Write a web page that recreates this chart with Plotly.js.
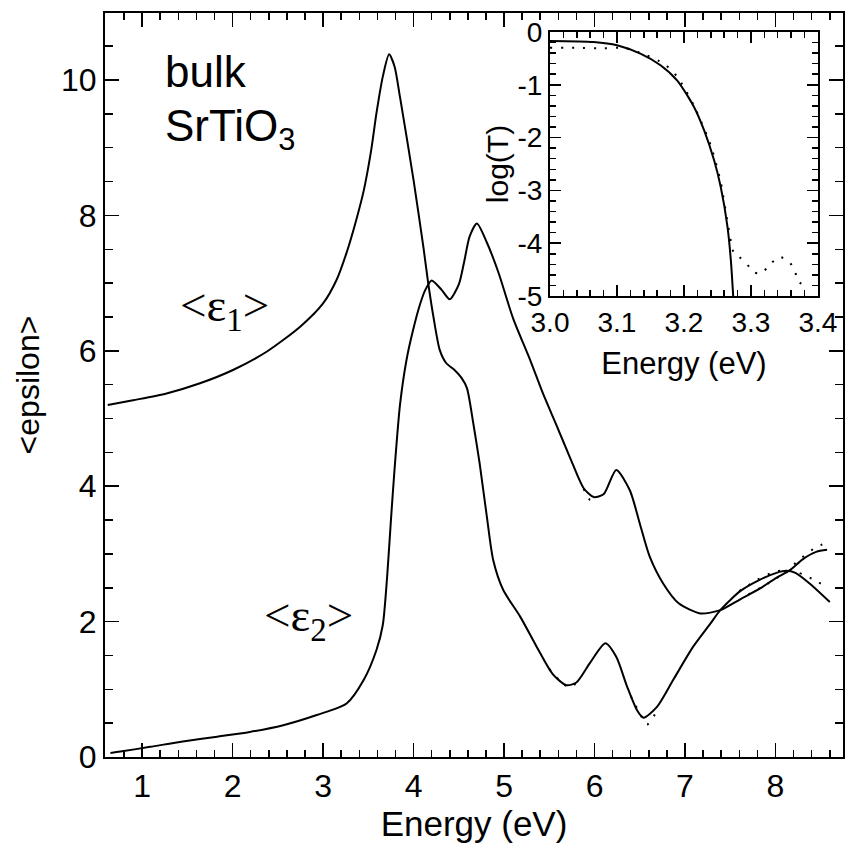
<!DOCTYPE html>
<html><head><meta charset="utf-8">
<script src="https://cdn.plot.ly/plotly-3.0.1.min.js"></script>
<style>body{margin:0;background:#fff}#plot{width:847px;height:852px}</style>
</head><body><div id="plot"></div>
<script>
// main panel: <epsilon1>, model (solid)
const e1Energy = [0.62,0.90,1.27,1.64,2.01,2.38,2.75,3.00,3.15,3.26,3.36,3.45,3.53,3.59,3.66,3.73,3.79,3.85,4.00,4.11,4.16,4.22,4.29,4.36,4.45,4.53,4.59,4.66,4.73,4.81,4.88,4.99,5.18,5.36,5.54,5.69,5.80,5.95,6.12,6.24,6.36,6.47,6.54,6.69,6.87,7.09,7.28,7.39,7.61,7.83,8.01,8.12,8.22,8.38,8.60];
const e1Model  = [5.20,5.27,5.37,5.52,5.72,5.99,6.36,6.70,7.05,7.45,7.90,8.37,8.95,9.51,10.05,10.38,10.20,9.75,8.52,7.52,7.02,6.50,6.01,5.82,5.72,5.60,5.45,4.93,4.34,3.55,2.91,2.47,2.07,1.63,1.22,1.06,1.10,1.39,1.68,1.48,1.04,0.69,0.58,0.74,1.14,1.63,1.97,2.17,2.45,2.62,2.72,2.75,2.72,2.56,2.29];
// main panel: <epsilon2>, model (solid)
const e2Energy = [0.65,0.76,1.09,1.45,1.83,2.19,2.56,2.93,3.26,3.45,3.59,3.66,3.71,3.75,3.79,3.85,3.92,3.99,4.07,4.13,4.20,4.31,4.40,4.50,4.56,4.62,4.70,4.81,4.94,5.10,5.29,5.43,5.58,5.73,5.88,5.99,6.10,6.24,6.39,6.50,6.61,6.76,6.93,7.17,7.39,7.61,7.83,8.00,8.16,8.30,8.45,8.57];
const e2Model  = [0.06,0.08,0.15,0.23,0.30,0.37,0.47,0.62,0.79,1.14,1.58,1.95,2.70,3.50,4.25,5.20,5.85,6.28,6.68,6.90,7.04,6.90,6.76,6.98,7.32,7.69,7.88,7.60,7.15,6.48,5.86,5.37,4.90,4.42,3.97,3.84,3.88,4.24,3.94,3.45,2.96,2.56,2.27,2.12,2.17,2.33,2.49,2.64,2.76,2.92,3.03,3.06];
// main panel: measured data (dotted), where it departs from the model (null = gap)
const e1ExpEnergy = [5.50,5.62,5.72,5.85,null,6.40,6.50,6.58,6.68,null,7.60,7.80,8.00,8.15,8.30,8.42,8.53];
const e1Exp       = [1.30,1.12,1.03,1.14,null,0.90,0.65,0.48,0.66,null,2.45,2.62,2.74,2.76,2.70,2.62,2.54];
const e2ExpEnergy = [5.88,5.95,6.02,null,7.70,7.90,8.10,8.25,8.45,8.56];
const e2Exp       = [3.96,3.80,3.83,null,2.40,2.55,2.72,2.90,3.10,3.16];
// inset: log(T)
const insetEnergy = [3.000,3.065,3.100,3.135,3.165,3.190,3.215,3.230,3.245,3.255,3.265,3.270,3.2735];
const insetModel  = [-0.17,-0.19,-0.25,-0.41,-0.63,-0.92,-1.42,-1.86,-2.43,-2.94,-3.69,-4.32,-5.0];
const insetExpEnergy = [3.000,3.040,3.080,3.110,3.140,3.170,3.190,3.215,3.240,3.255,3.265,3.275,3.2825,3.300,3.305,3.315,3.325,3.3425,3.3575,3.365,3.370,3.375];
const insetExp       = [-0.30,-0.30,-0.31,-0.30,-0.42,-0.60,-0.85,-1.40,-2.15,-2.85,-3.60,-4.20,-4.26,-4.48,-4.55,-4.58,-4.45,-4.26,-4.36,-4.51,-4.70,-4.77];
// tick labels
const mainXTicks = [1,2,3,4,5,6,7,8];
const mainYTicks = [0,2,4,6,8,10];
const insetXTicks = [3.0,3.1,3.2,3.3,3.4];
const insetXText = ['3.0','3.1','3.2','3.3','3.4'];
const insetYTicks = [0,-1,-2,-3,-4,-5];
const insetYText = ['0','-1','-2','-3','-4','-5'];

const solid = {color:'#000', width:2, shape:'spline', smoothing:0.7};
const dotted = {color:'#000', width:2, dash:'2px,9px', shape:'spline', smoothing:0.7};
const traces = [
  {x:e1Energy, y:e1Model, mode:'lines', line:solid, xaxis:'x', yaxis:'y'},
  {x:e2Energy, y:e2Model, mode:'lines', line:solid, xaxis:'x', yaxis:'y'},
  {x:e1ExpEnergy, y:e1Exp, mode:'lines', line:dotted, connectgaps:false, xaxis:'x', yaxis:'y'},
  {x:e2ExpEnergy, y:e2Exp, mode:'lines', line:dotted, connectgaps:false, xaxis:'x', yaxis:'y'},
  {x:insetEnergy, y:insetModel, mode:'lines', line:solid, xaxis:'x2', yaxis:'y2'},
  {x:insetExpEnergy, y:insetExp, mode:'lines', line:dotted, xaxis:'x2', yaxis:'y2'}
];
const F = 'Liberation Sans, Arial, sans-serif';
const axisCommon = {showgrid:false, zeroline:false, showline:true, linecolor:'#000', linewidth:2,
  mirror:'allticks', ticks:'inside', tickcolor:'#000', tickwidth:1.5};
const layout = {
  width:847, height:852, showlegend:false,
  paper_bgcolor:'#fff', plot_bgcolor:'rgba(0,0,0,0)',
  margin:{l:105, r:4, t:13, b:95},
  font:{family:F, color:'#000'},
  xaxis:Object.assign({}, axisCommon, {range:[0.59,8.746], tickvals:mainXTicks, ticklen:14,
    minor:{dtick:0.2, tick0:0, ticklen:7, ticks:'inside', tickcolor:'#000', tickwidth:1.5},
    tickfont:{size:32, family:F}, title:{text:'Energy (eV)', font:{size:35, family:F}, standoff:4}}),
  yaxis:Object.assign({}, axisCommon, {range:[0,10.99], tickvals:mainYTicks, ticklen:14,
    minor:{dtick:0.5, tick0:0, ticklen:8, ticks:'inside', tickcolor:'#000', tickwidth:1.5},
    tickfont:{size:32, family:F}, title:{text:'&lt;epsilon&gt;', font:{size:32, family:F}, standoff:12}}),
  xaxis2:Object.assign({}, axisCommon, {domain:[0.603,0.966], anchor:'y2', range:[3.0,3.4],
    tickvals:insetXTicks, ticktext:insetXText, ticklen:11,
    minor:{dtick:0.02, tick0:3.0, ticklen:6, ticks:'inside', tickcolor:'#000', tickwidth:1.5},
    tickfont:{size:28, family:F}, title:{text:'Energy (eV)', font:{size:31, family:F}, standoff:16}}),
  yaxis2:Object.assign({}, axisCommon, {domain:[0.6196,0.9745], anchor:'x2', range:[-5,0],
    tickvals:insetYTicks, ticktext:insetYText, ticklen:11,
    minor:{dtick:0.2, tick0:0, ticklen:6, ticks:'inside', tickcolor:'#000', tickwidth:1.5},
    tickfont:{size:28, family:F}, title:{text:'log(T)', font:{size:30, family:F}, standoff:0}}),
  annotations:[
    {xref:'x', yref:'y', x:1.23, y:10.12, xanchor:'left', yanchor:'middle', showarrow:false,
     text:'bulk', font:{size:44, family:F}},
    {xref:'x', yref:'y', x:1.23, y:9.28, xanchor:'left', yanchor:'middle', showarrow:false,
     text:'SrTiO<sub>3</sub>', font:{size:44, family:F}},
    {xref:'x', yref:'y', x:1.40, y:6.62, xanchor:'left', yanchor:'middle', showarrow:false,
     text:'&lt;ε<sub>1</sub>&gt;', font:{size:47, family:'Liberation Serif, Times New Roman, serif'}},
    {xref:'x', yref:'y', x:2.32, y:2.05, xanchor:'left', yanchor:'middle', showarrow:false,
     text:'&lt;ε<sub>2</sub>&gt;', font:{size:47, family:'Liberation Serif, Times New Roman, serif'}}
  ]
};
Plotly.newPlot('plot', traces, layout, {displayModeBar:false, staticPlot:true});
</script>
</body></html>
